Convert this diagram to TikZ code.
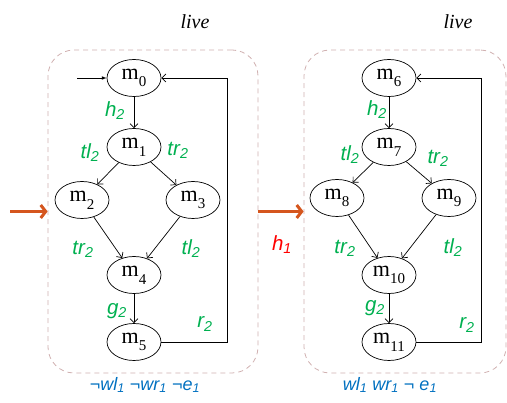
\documentclass[tikz,border=0pt]{standalone}
\usepackage{fontspec}
\setmainfont{Liberation Serif}
\setsansfont{Liberation Sans}
\usepackage{tikz}
\usetikzlibrary{arrows.meta,shapes.geometric}

\definecolor{lblgreen}{HTML}{00B050}
\definecolor{condblue}{HTML}{0070C0}
\definecolor{boxpink}{HTML}{D0B0B0}
\definecolor{hookorange}{HTML}{D5561E}

\newcommand{\st}[1]{m\raisebox{-0.35em}{\fontsize{15}{15}\selectfont #1}}

\begin{document}
\begin{tikzpicture}[x=1pt,y=-1pt,
    state/.style={draw,ellipse,line width=0.7pt,minimum width=54pt,minimum height=37pt,inner sep=0pt,
      font=\fontsize{22}{24}\selectfont},
    trans/.style={lblgreen,font=\sffamily\itshape\fontsize{20.5}{22}\selectfont},
    edge/.style={line width=0.7pt,-{Straight Barb[length=4pt,width=8pt]}},
    region/.style={draw=boxpink,line width=0.8pt,dash pattern=on 5pt off 4pt,rounded corners=26pt,
      minimum height=323pt,inner sep=0pt},
    cond/.style={condblue,font=\sffamily\itshape\fontsize{18}{20}\selectfont},
    mode/.style={font=\itshape\fontsize{20}{22}\selectfont},
    hook/.style={hookorange,line width=3pt,-{Straight Barb[length=5pt,width=13pt]}}]
    \useasboundingbox (0,0) rectangle (507,403);

    % regions
    \node[region,minimum width=210pt] (boxL) at (153,211.5) {};
    \node[region,minimum width=202pt] (boxR) at (405,211.5) {};
    \node[mode] (liveL) at (195,22) {live};
    \node[mode] (liveR) at (458,22) {live};
    \node[cond] (condL) at (145,385) {¬wl\textsubscript{1} ¬wr\textsubscript{1} ¬e\textsubscript{1}};
    \node[cond] (condR) at (390,385) {wl\textsubscript{1} wr\textsubscript{1} ¬ e\textsubscript{1}};

    % left machine
    \node[state] (m0) at (134,78) {\st{0}};
    \node[state] (m1) at (134,147) {\st{1}};
    \node[state] (m2) at (82,200) {\st{2}};
    \node[state] (m3) at (193,200) {\st{3}};
    \node[state] (m4) at (134,275) {\st{4}};
    \node[state] (m5) at (134,342) {\st{5}};
    \coordinate (init) at (77,78);
    \draw[line width=0.7pt,-latex] (init) -- (m0);
    \draw[edge] (m0) -- (m1);
    \draw[edge] (m1) -- (m2);
    \draw[edge] (m1) -- (m3);
    \draw[edge] (m2) -- (m4);
    \draw[edge] (m3) -- (m4);
    \draw[edge] (m4) -- (m5);
    \draw[edge] (m5.east) -- ++(66,0) |- (m0.east);
    \node[trans] at (115,111) {h\textsubscript{2}};
    \node[trans] at (90,153) {tl\textsubscript{2}};
    \node[trans] at (178,150) {tr\textsubscript{2}};
    \node[trans] at (83,249) {tr\textsubscript{2}};
    \node[trans] at (191,249) {tl\textsubscript{2}};
    \node[trans] at (117,311) {g\textsubscript{2}};
    \node[trans] at (205,324) {r\textsubscript{2}};

    % right machine
    \node[state] (m6) at (389,78) {\st{6}};
    \node[state] (m7) at (389,147) {\st{7}};
    \node[state] (m8) at (337,198) {\st{8}};
    \node[state] (m9) at (449,198) {\st{9}};
    \node[state] (m10) at (389,275) {\st{10}};
    \node[state] (m11) at (389,342) {\st{11}};
    \draw[edge] (m6) -- (m7);
    \draw[edge] (m7) -- (m8);
    \draw[edge] (m7) -- (m9);
    \draw[edge] (m8) -- (m10);
    \draw[edge] (m9) -- (m10);
    \draw[edge] (m10) -- (m11);
    \draw[edge] (m11.east) -- ++(65,0) |- (m6.east);
    \node[trans] at (377,110) {h\textsubscript{2}};
    \node[trans] at (350,155) {tl\textsubscript{2}};
    \node[trans] at (438,158) {tr\textsubscript{2}};
    \node[trans] at (345,248) {tr\textsubscript{2}};
    \node[trans] at (453,248) {tl\textsubscript{2}};
    \node[trans] at (375,308) {g\textsubscript{2}};
    \node[trans] at (467,325) {r\textsubscript{2}};

    % hooks
    \coordinate (entry) at (10,211.5);
    \draw[hook] (entry) -- (boxL.west);
    \draw[hook] (boxL.east) -- (boxR.west);
    \node[red,font=\sffamily\itshape\fontsize{20.5}{22}\selectfont] (h1) at (282,245) {h\textsubscript{1}};
\end{tikzpicture}
\end{document}
